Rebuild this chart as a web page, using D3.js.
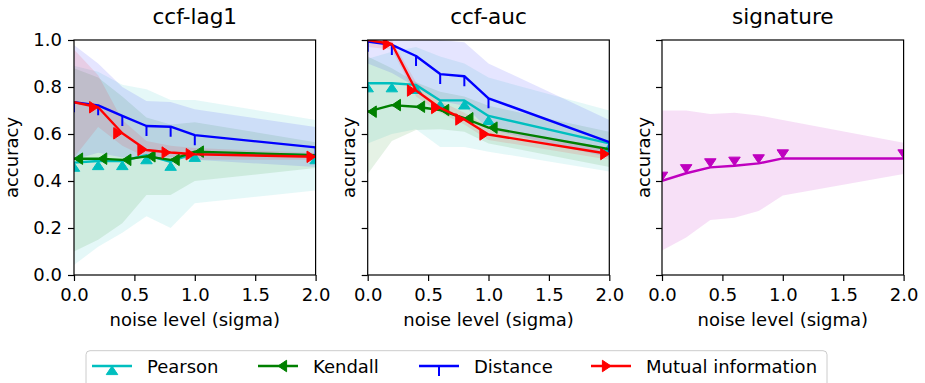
<!DOCTYPE html>
<html><head><meta charset="utf-8">
<script src="https://cdn.jsdelivr.net/npm/d3@7"></script>
<style>body{margin:0;background:#fff;} text{font-family:"DejaVu Sans",sans-serif;fill:#000;}</style>
</head><body><svg id="c" width="925" height="383"></svg>
<script>
// ---------- data ----------
const noise = [0, 0.2, 0.4, 0.6, 0.8, 1.0, 2.0];
const xTicks = [0, 0.5, 1.0, 1.5, 2.0];
const yTicks = [0, 0.2, 0.4, 0.6, 0.8, 1.0];
const panelTitles = ["ccf-lag1", "ccf-auc", "signature"];
const seriesNames = ["Pearson", "Kendall", "Distance", "Mutual information"];
const seriesColors = ["#00bfbf", "#008000", "#0000ff", "#ff0000"];
const seriesMarkers = ["caretup", "caretleft", "tickdown", "caretright"];
const signatureColor = "#bf00bf";

// ccf-lag1
const lag1Pearson   = [0.478, 0.485, 0.485, 0.510, 0.482, 0.520, 0.510];
const lag1PearsonLo = [0.043, 0.120, 0.180, 0.250, 0.200, 0.305, 0.360];
const lag1PearsonHi = [0.890, 0.865, 0.810, 0.790, 0.745, 0.745, 0.660];
const lag1Kendall   = [0.495, 0.495, 0.490, 0.505, 0.490, 0.525, 0.510];
const lag1KendallLo = [0.100, 0.150, 0.220, 0.340, 0.340, 0.400, 0.455];
const lag1KendallHi = [0.880, 0.840, 0.760, 0.670, 0.640, 0.650, 0.565];
const lag1Distance   = [0.735, 0.722, 0.677, 0.634, 0.631, 0.595, 0.543];
const lag1DistanceLo = [0.490, 0.520, 0.500, 0.500, 0.500, 0.490, 0.460];
const lag1DistanceHi = [0.979, 0.900, 0.800, 0.740, 0.736, 0.705, 0.630];
const lag1MI   = [0.735, 0.714, 0.603, 0.532, 0.521, 0.514, 0.503];
const lag1MILo = [0.500, 0.630, 0.550, 0.500, 0.500, 0.490, 0.490];
const lag1MIHi = [0.960, 0.850, 0.660, 0.570, 0.550, 0.540, 0.520];

// ccf-auc
const aucPearson   = [0.816, 0.816, 0.809, 0.743, 0.743, 0.677, 0.560];
const aucPearsonLo = [0.560, 0.600, 0.620, 0.545, 0.545, 0.525, 0.440];
const aucPearsonHi = [0.920, 0.950, 0.970, 0.930, 0.900, 0.840, 0.700];
const aucKendall   = [0.695, 0.723, 0.716, 0.702, 0.667, 0.627, 0.535];
const aucKendallLo = [0.430, 0.570, 0.617, 0.620, 0.610, 0.560, 0.460];
const aucKendallHi = [0.930, 0.880, 0.820, 0.780, 0.760, 0.720, 0.610];
const aucDistance   = [0.993, 0.979, 0.932, 0.855, 0.846, 0.752, 0.565];
const aucDistanceLo = [0.900, 0.860, 0.800, 0.740, 0.720, 0.620, 0.500];
const aucDistanceHi = [1.000, 1.000, 1.000, 1.000, 0.990, 0.900, 0.660];
const aucMI   = [1.000, 0.983, 0.785, 0.711, 0.662, 0.598, 0.515];
const aucMILo = [0.970, 0.960, 0.760, 0.690, 0.640, 0.575, 0.490];
const aucMIHi = [1.000, 1.000, 0.820, 0.740, 0.690, 0.630, 0.540];

// signature
const sigMean = [0.401, 0.433, 0.458, 0.465, 0.475, 0.496, 0.496];
const sigLo   = [0.104, 0.160, 0.234, 0.244, 0.272, 0.338, 0.430];
const sigHi   = [0.700, 0.700, 0.685, 0.690, 0.679, 0.660, 0.563];

// ---------- layout ----------
const svg = d3.select("#c");
const W = 241.6, yTop = 40, yBottom = 275;
const panelLeft = [74, 367.7, 662];
const fontTick = 18, fontTitle = 21.6;
const LW = 2.4;

function mk(name, color, marker, mean, lo, hi) { return {name, color, marker, mean, lo, hi}; }
const panels = [
  [mk(seriesNames[0], seriesColors[0], seriesMarkers[0], lag1Pearson, lag1PearsonLo, lag1PearsonHi),
   mk(seriesNames[1], seriesColors[1], seriesMarkers[1], lag1Kendall, lag1KendallLo, lag1KendallHi),
   mk(seriesNames[2], seriesColors[2], seriesMarkers[2], lag1Distance, lag1DistanceLo, lag1DistanceHi),
   mk(seriesNames[3], seriesColors[3], seriesMarkers[3], lag1MI, lag1MILo, lag1MIHi)],
  [mk(seriesNames[0], seriesColors[0], seriesMarkers[0], aucPearson, aucPearsonLo, aucPearsonHi),
   mk(seriesNames[1], seriesColors[1], seriesMarkers[1], aucKendall, aucKendallLo, aucKendallHi),
   mk(seriesNames[2], seriesColors[2], seriesMarkers[2], aucDistance, aucDistanceLo, aucDistanceHi),
   mk(seriesNames[3], seriesColors[3], seriesMarkers[3], aucMI, aucMILo, aucMIHi)],
  [mk("signature", signatureColor, "caretdown", sigMean, sigLo, sigHi)]
];

const CW = 11.5, CH = 8.6, TL = 10;
function markerPath(type, x, y) {
  switch (type) {
    case "caretup":   return `M${x-CW/2},${y+CH}L${x},${y}L${x+CW/2},${y+CH}Z`;
    case "caretdown": return `M${x-CW/2},${y-CH}L${x},${y}L${x+CW/2},${y-CH}Z`;
    case "caretleft": return `M${x+CH},${y-CW/2}L${x},${y}L${x+CH},${y+CW/2}Z`;
    case "caretright":return `M${x-CH},${y-CW/2}L${x},${y}L${x-CH},${y+CW/2}Z`;
    case "tickdown":  return `M${x},${y}L${x},${y+TL}`;
  }
}
function drawMarker(g, type, x, y, color) {
  const p = g.append("path").attr("d", markerPath(type, x, y));
  if (type === "tickdown") p.attr("fill", "none").attr("stroke", color).attr("stroke-width", 2);
  else p.attr("fill", color).attr("stroke", color).attr("stroke-width", 1).attr("stroke-linejoin", "miter");
}

const y = d3.scaleLinear().domain([0, 1]).range([yBottom, yTop]);

panels.forEach((series, pi) => {
  const x0 = panelLeft[pi];
  const x = d3.scaleLinear().domain([0, 2]).range([x0, x0 + W]);
  const g = svg.append("g");
  const clipId = "clip" + pi;
  svg.append("clipPath").attr("id", clipId).append("rect")
    .attr("x", x0).attr("y", yTop).attr("width", W).attr("height", yBottom - yTop);
  const plot = g.append("g").attr("clip-path", `url(#${clipId})`);

  const area = d3.area().x((d, i) => x(noise[i])).y0(d => y(d[0])).y1(d => y(d[1]));
  series.forEach(s => {
    plot.append("path").datum(s.lo.map((v, i) => [v, s.hi[i]]))
      .attr("d", area).attr("fill", s.color).attr("fill-opacity", pi === 2 ? 0.12 : 0.1);
  });
  const line = d3.line().x((d, i) => x(noise[i])).y(d => y(d));
  series.forEach(s => {
    plot.append("path").datum(s.mean).attr("d", line).attr("fill", "none")
      .attr("stroke", s.color).attr("stroke-width", LW).attr("stroke-linejoin", "round");
    s.mean.forEach((v, i) => drawMarker(plot, s.marker, x(noise[i]), y(v), s.color));
  });

  // axes
  const xa = g.append("g").attr("transform", `translate(0,${yBottom})`)
    .call(d3.axisBottom(x).tickValues(xTicks).tickFormat(d3.format(".1f")).tickSizeOuter(0).tickSize(6).tickPadding(6));
  const ya = g.append("g").attr("transform", `translate(${x0},0)`)
    .call(d3.axisLeft(y).tickValues(yTicks).tickFormat(pi === 0 ? d3.format(".1f") : () => "").tickSizeOuter(0).tickSize(6).tickPadding(6));
  [xa, ya].forEach(a => {
    a.select(".domain").remove();
    a.selectAll("line").attr("stroke", "#000").attr("stroke-width", 1.2);
    a.selectAll("text").attr("font-size", fontTick).attr("font-family", "DejaVu Sans").attr("fill", "#000");
  });
  xa.selectAll("text").attr("dy", null).attr("y", 26);
  // spines
  g.append("rect").attr("x", x0).attr("y", yTop).attr("width", W).attr("height", yBottom - yTop)
    .attr("fill", "none").attr("stroke", "#000").attr("stroke-width", 1.2);

  g.append("text").attr("x", x0 + W / 2).attr("y", 24).attr("text-anchor", "middle")
    .attr("font-size", fontTitle).text(panelTitles[pi]);
  g.append("text").attr("x", x0 + W / 2).attr("y", 326).attr("text-anchor", "middle")
    .attr("font-size", fontTick).text("noise level (sigma)");
  const lx = pi === 0 ? 18.3 : x0 - 12.5;
  g.append("text").attr("transform", `translate(${lx},${(yTop + yBottom) / 2}) rotate(-90)`)
    .attr("text-anchor", "middle").attr("font-size", fontTick).text("accuracy");
});

// ---------- legend ----------
const leg = svg.append("g");
leg.append("rect").attr("x", 86).attr("y", 350.7).attr("width", 741).attr("height", 40).attr("rx", 4)
  .attr("fill", "#fff").attr("fill-opacity", 0.8).attr("stroke", "#cccccc").attr("stroke-width", 1);
const legendHandleX = [92, 258, 419, 591];
const ly = 366;
seriesNames.forEach((name, i) => {
  const lx = legendHandleX[i];
  leg.append("line").attr("x1", lx).attr("x2", lx + 40).attr("y1", ly).attr("y2", ly)
    .attr("stroke", seriesColors[i]).attr("stroke-width", LW);
  drawMarker(leg, seriesMarkers[i], lx + 20, ly, seriesColors[i]);
  leg.append("text").attr("x", lx + 55).attr("y", ly + 6.5).attr("font-size", 18).text(name);
});
</script></body></html>
